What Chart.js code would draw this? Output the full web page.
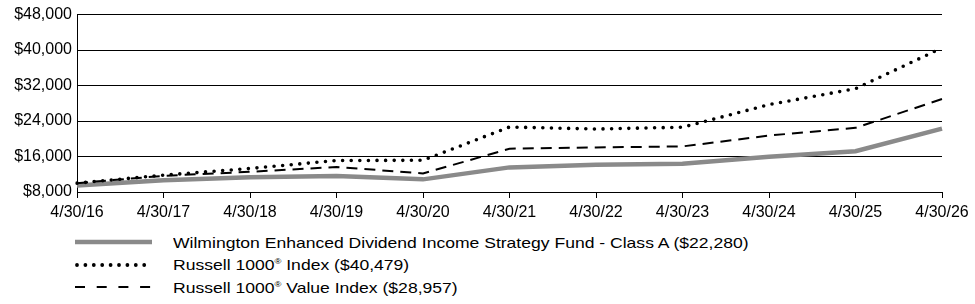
<!DOCTYPE html>
<html>
<head>
<meta charset="utf-8">
<script src="https://cdn.jsdelivr.net/npm/chart.js@4.4.1/dist/chart.umd.min.js"></script>
<style>
  html, body { margin: 0; padding: 0; background: #fff; }
  body { width: 975px; height: 304px; overflow: hidden; font-family: "Liberation Sans", Arial, sans-serif; }
  #wrap { position: relative; width: 975px; height: 228px; }
  #legend { margin-left: 75px; margin-top: 3px; }
  .row { display: flex; align-items: center; height: 22.5px; font-size: 15px; color: #000; white-space: nowrap; }
  .row svg { width: 80px; height: 10px; margin-right: 18px; flex: none; }
  .row span { display: inline-block; transform: scaleX(1.17); transform-origin: left center; }
  sup { font-size: 8px; vertical-align: 6px; }
</style>
</head>
<body>
<div id="wrap"><canvas id="growthChart"></canvas></div>
<div id="legend"></div>
<script>
const dates = ['4/30/16', '4/30/17', '4/30/18', '4/30/19', '4/30/20', '4/30/21', '4/30/22', '4/30/23', '4/30/24', '4/30/25', '4/30/26'];
const fundValues = [9450, 10650, 11300, 11600, 10850, 13550, 14150, 14350, 15950, 17200, 22280];
const russell1000 = [10000, 11800, 13300, 15100, 15150, 22650, 22200, 22600, 27700, 31300, 40479];
const russellValue = [10000, 11650, 12550, 13650, 12180, 17760, 18050, 18280, 20730, 22460, 28957];
const yTicks = [8000, 16000, 24000, 32000, 40000, 48000];

const seriesInfo = [
  { name: 'Wilmington Enhanced Dividend Income Strategy Fund - Class A ($22,280)', data: fundValues, color: '#8a8a8a', width: 4.5, dash: [], cap: 'butt', legendDash: 'none', legendWidth: 4.5 },
  { name: 'Russell 1000<sup>®</sup> Index ($40,479)', data: russell1000, color: '#000', width: 3.6, dash: [0, 8.6], cap: 'round', legendDash: '0 8.4', legendWidth: 3.8 },
  { name: 'Russell 1000<sup>®</sup> Value Index ($28,957)', data: russellValue, color: '#000', width: 2, dash: [11, 7], cap: 'butt', legendDash: '10 11.7', legendWidth: 2.2 }
];

function buildLegend() {
  const legend = document.getElementById('legend');
  seriesInfo.forEach(s => {
    const row = document.createElement('div');
    row.className = 'row';
    const x1 = s.cap === 'round' ? 2 : 0;
    row.innerHTML = `
      <svg viewBox="0 0 80 10"><line x1="${x1}" y1="5" x2="77" y2="5" stroke="${s.color}"
        stroke-width="${s.legendWidth}" stroke-dasharray="${s.legendDash}" stroke-linecap="${s.cap}"/></svg>
      <span>${s.name}</span>`;
    legend.appendChild(row);
  });
}

function initChart() {
  const ctx = document.getElementById('growthChart').getContext('2d');
  new Chart(ctx, {
    type: 'line',
    data: {
      labels: dates,
      datasets: seriesInfo.map((s, i) => ({
        label: s.name,
        data: s.data,
        borderColor: s.color,
        borderWidth: s.width,
        borderDash: s.dash,
        borderCapStyle: s.cap,
        pointRadius: 0,
        tension: 0,
        fill: false,
        order: 3 - i
      }))
    },
    options: {
      responsive: true,
      maintainAspectRatio: false,
      animation: false,
      layout: { padding: { top: 13, right: 33, left: 0, bottom: 0 } },
      plugins: { legend: { display: false }, tooltip: { enabled: false } },
      scales: {
        x: {
          offset: false,
          afterFit: (scale) => { scale.height = 36; },
          grid: { drawOnChartArea: false, color: '#000', tickLength: 6, tickColor: '#000' },
          border: { color: '#000', width: 1 },
          ticks: { color: '#000', font: { family: 'Liberation Sans', size: 16 }, maxRotation: 0, autoSkip: false, padding: 5 }
        },
        y: {
          min: 8000,
          max: 48000,
          afterFit: (scale) => { scale.width = 77; },
          afterBuildTicks: (scale) => { scale.ticks = yTicks.map(v => ({ value: v })); },
          grid: { color: '#000', lineWidth: 1, drawTicks: false },
          border: { color: '#000', width: 1 },
          ticks: {
            color: '#000',
            font: { family: 'Liberation Sans', size: 16 },
            padding: 5,
            callback: (v) => '$' + v.toLocaleString('en-US')
          }
        }
      }
    }
  });
}

buildLegend();
initChart();
</script>
</body>
</html>
